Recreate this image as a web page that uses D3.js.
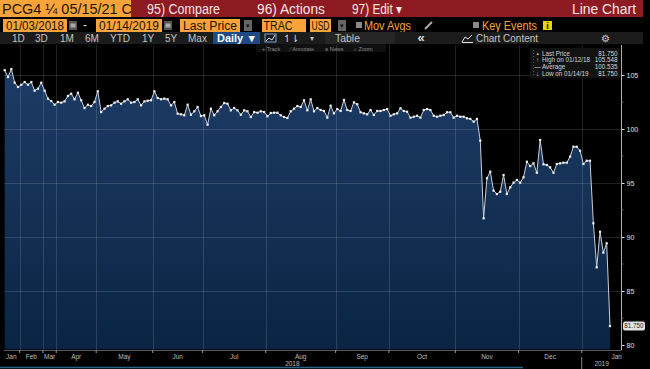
<!DOCTYPE html>
<html>
<head>
<meta charset="utf-8">
<script src="https://cdn.jsdelivr.net/npm/d3@7"></script>
<style>
  body { margin: 0; background: #000; }
  svg { display: block; font-family: "Liberation Sans", Arial, sans-serif; }
</style>
</head>
<body>
<script>
// PCG4 1/4 05/15/21 Corp, one value per observation
var prices = [
  105.45, 104.81, 105.548, 104.29, 103.89, 104.10, 104.35, 104.10, 104.35, 103.55,
  103.73, 104.29, 103.55, 102.81, 102.59, 102.25, 102.50, 102.44, 102.56, 103.06,
  103.27, 102.75, 103.36, 102.66, 101.94, 102.25, 102.13, 102.50, 103.49, 101.57,
  101.88, 102.13, 102.19, 102.44, 102.56, 102.34, 102.56, 102.75, 102.44, 102.50,
  102.75, 102.19, 102.56, 102.62, 102.66, 103.49, 102.87,
  102.75, 102.81, 102.75, 102.19, 102.50, 101.42, 101.36, 101.27, 102.25, 101.32,
  101.64, 102.04, 101.20, 101.27, 100.40, 101.88, 101.27, 101.64, 102.04, 102.41,
  102.34, 101.73, 101.94, 101.73, 101.32, 101.73, 101.64, 101.11, 101.57, 101.51,
  101.64, 101.57, 101.18, 101.48, 101.51, 101.51, 101.27, 101.11, 101.02, 101.64,
  101.88, 102.13, 102.04, 102.66, 101.73, 102.75, 101.64, 101.94,
  101.76, 101.67, 101.05, 102.16, 101.45, 101.85, 101.67, 102.69, 101.76, 101.67,
  102.47, 102.29, 101.55, 101.45, 101.36, 101.76, 101.30, 101.67, 101.67, 101.76,
  101.85, 101.23, 101.36, 101.45, 101.92, 101.67, 101.60, 101.05, 101.14, 101.23,
  101.05, 101.76, 101.85, 101.76, 101.23, 101.14, 101.23, 101.30, 101.55, 101.55,
  101.05, 101.23, 101.14, 101.14, 100.99, 100.93, 100.68, 100.93,
  98.92, 91.73, 95.44, 96.05, 94.29, 93.98, 94.19, 95.74, 93.98, 94.60,
  95.03, 95.28, 95.03, 95.53, 96.97, 96.57, 96.82, 95.95, 98.98, 96.73,
  96.67, 96.45, 95.95, 96.76, 96.82, 96.88, 96.88, 97.44, 98.36, 98.36,
  97.99, 96.76, 97.06, 97.06, 91.27, 87.19, 90.49, 88.55, 89.42, 81.75
]

var monthLabels = ["Jan", "Feb", "Mar", "Apr", "May", "Jun", "Jul", "Aug", "Sep", "Oct", "Nov", "Dec", "Jan"]
var monthStarts = [0, 5, 12, 16, 28, 45, 60, 79, 100, 116, 136, 155, 174]
var yearLabels = ["2018", "2019"]
var yTicks = [80, 85, 90, 95, 100, 105]
var yMinorTicks = [82.5, 87.5, 92.5, 97.5, 102.5]

var legendRows = [
  {sym: "▪", label: "Last Price", value: "81.750"},
  {sym: "↑", label: "High on 01/12/18", value: "105.548"},
  {sym: "—", label: "Average", value: "100.535"},
  {sym: "↓", label: "Low on 01/14/19", value: "81.750"}
]

var periods = ["1D", "3D", "1M", "6M", "YTD", "1Y", "5Y", "Max"]
var periodX = [12, 35, 60, 85, 110, 142, 165, 188]

var orange = "#f8a43a"
var width = 650, height = 369

var svg = d3.select("body").append("svg")
  .attr("width", width)
  .attr("height", height)

svg.append("rect").attr("width", width).attr("height", height).attr("fill", "#000")

// ---- header rows ----
function label(txt, x, y, size, fill, len, anchor) {
  var t = svg.append("text")
    .attr("x", x).attr("y", y)
    .attr("font-size", size)
    .attr("fill", fill)
    .attr("text-anchor", anchor || "start")
    .text(txt)
  if (len) t.attr("textLength", len).attr("lengthAdjust", "spacingAndGlyphs")
  return t
}

svg.append("rect").attr("x", 0).attr("y", 0).attr("width", 131).attr("height", 17).attr("fill", orange)
label("PCG4 ¼ 05/15/21 C", 2, 14, 14, "#1b1208", 130)
svg.append("rect").attr("x", 131).attr("y", 0).attr("width", 512).attr("height", 17).attr("fill", "#8e1a22")
label("95) Compare", 147, 14, 14, "#f2e6e6", 73)
label("96) Actions", 257, 14, 14, "#f2e6e6", 68)
label("97) Edit ▾", 352, 14, 14, "#f2e6e6", 50)
label("Line Chart", 636, 14, 14, "#f2e6e6", 64, "end")

var boxes = [
  {x: 3, w: 64, t: "01/03/2018"},
  {x: 96, w: 66, t: "01/14/2019"},
  {x: 180, w: 60, t: "Last Price"},
  {x: 262, w: 44, t: "TRAC", len: 29},
  {x: 310, w: 21, t: "USD", len: 18}
]
boxes.forEach(function(b) {
  svg.append("rect").attr("x", b.x).attr("y", 19).attr("width", b.w).attr("height", 13).attr("fill", orange)
  label(b.t, b.x + (b.len ? 1.5 : 3), 29.5, 12, "#1b1208", b.len || b.w - 6)
})
;[69, 164].forEach(function(x) {
  svg.append("rect").attr("x", x).attr("y", 21).attr("width", 8).attr("height", 9).attr("fill", "#555")
  svg.append("rect").attr("x", x + 1.5).attr("y", 23.5).attr("width", 5).attr("height", 4).attr("fill", "#aaa")
})
label("-", 83, 29, 12, "#ddd")
;[244, 338].forEach(function(x) {
  svg.append("rect").attr("x", x).attr("y", 20).attr("width", 8).attr("height", 11).attr("fill", "#666")
  label("▾", x + 4, 28, 7, "#111", null, "middle")
})
svg.append("rect").attr("x", 356).attr("y", 22).attr("width", 6).attr("height", 6).attr("fill", "#8a8a8a")
label("Mov Avgs", 364, 29.5, 12, orange, 47)
svg.append("line").attr("x1", 425).attr("y1", 29).attr("x2", 432).attr("y2", 22).attr("stroke", "#aaa").attr("stroke-width", 2)
svg.append("rect").attr("x", 473).attr("y", 22).attr("width", 6).attr("height", 6).attr("fill", "#8a8a8a")
label("Key Events", 482, 29.5, 12, orange, 55)
svg.append("rect").attr("x", 543).attr("y", 21).attr("width", 9).attr("height", 9).attr("fill", "#e6d400")
label("i", 547.5, 29, 9, "#111", null, "middle").attr("font-weight", "bold")

svg.append("rect").attr("x", 0).attr("y", 32).attr("width", 643).attr("height", 12).attr("fill", "#1c1c1c")
periods.forEach(function(p, i) {
  label(p, periodX[i], 41.5, 10, "#c4c4c4")
})
svg.append("rect").attr("x", 213).attr("y", 32).attr("width", 47).attr("height", 12).attr("fill", "#1f4a86")
label("Daily ▼", 217, 41.5, 10.5, "#fff", 40).attr("font-weight", "bold")
svg.append("rect").attr("x", 265).attr("y", 34).attr("width", 11).attr("height", 8).attr("fill", "none").attr("stroke", "#7fa0d0")
svg.append("polyline").attr("points", "266,41 269,38 272,40 275,35").attr("fill", "none").attr("stroke", "#cfe0ff")
label("↿⇂", 283, 41.5, 10, "#ddd")
label("▾", 312, 41, 8, "#bbb", null, "middle")
svg.append("rect").attr("x", 325).attr("y", 32).attr("width", 70).attr("height", 12).attr("fill", "#262626")
label("Table", 335, 41.5, 10, "#c4c4c4", 25)
label("«", 421, 42, 13, "#ddd", null, "middle").attr("font-weight", "bold")
svg.append("polyline").attr("points", "462,42 465,37 468,39 472,35").attr("fill", "none").attr("stroke", "#ddd")
svg.append("line").attr("x1", 462).attr("y1", 42.5).attr("x2", 473).attr("y2", 42.5).attr("stroke", "#ddd")
label("Chart Content", 476, 41.5, 10, "#c4c4c4", 62)
label("⚙", 605, 42, 10, "#ccc", null, "middle")

svg.append("rect").attr("x", 256).attr("y", 44).attr("width", 130).attr("height", 8).attr("fill", "#101010")
label("+ Track", 262, 50.5, 5.5, "#8a8a8a")
label("⁄ Annotate", 290, 50.5, 5.5, "#8a8a8a")
label("≡ News", 325, 50.5, 5.5, "#8a8a8a")
label("⌕ Zoom", 354, 50.5, 5.5, "#8a8a8a")

// ---- chart ----
var x = d3.scaleLinear()
  .domain([0, prices.length - 1])
  .range([4.7, 610])

var y = d3.scaleLinear()
  .domain([80, 105])
  .range([345, 75])

var plotRight = 621.5, plotBottom = 350, plotTop = 45

var grad = svg.append("defs").append("linearGradient")
  .attr("id", "areaFill")
  .attr("gradientUnits", "userSpaceOnUse")
  .attr("x1", 0).attr("y1", 70).attr("x2", 0).attr("y2", 349)
grad.append("stop").attr("offset", 0).attr("stop-color", "#1d3c66")
grad.append("stop").attr("offset", 1).attr("stop-color", "#0a2543")

var area = d3.area()
  .x(function(d, i) { return x(i) })
  .y0(y(79.6))
  .y1(function(d) { return y(d) })

svg.append("path")
  .datum(prices)
  .attr("fill", "url(#areaFill)")
  .attr("d", area)

// grid
svg.append("g")
  .selectAll("line")
  .data(yTicks.filter(function(d) { return d > 80 }))
  .enter()
  .append("line")
  .attr("x1", 4).attr("x2", plotRight)
  .attr("y1", function(d) { return Math.round(y(d)) + 0.5 })
  .attr("y2", function(d) { return Math.round(y(d)) + 0.5 })
  .attr("stroke", "#fff")
  .attr("stroke-opacity", 0.13)

var bounds = monthStarts.slice(1).map(function(s) { return x(s - 0.5) })

svg.append("g")
  .selectAll("line")
  .data(bounds)
  .enter()
  .append("line")
  .attr("x1", function(d) { return Math.round(d) + 0.5 })
  .attr("x2", function(d) { return Math.round(d) + 0.5 })
  .attr("y1", plotTop).attr("y2", plotBottom)
  .attr("stroke", "#fff")
  .attr("stroke-opacity", 0.13)

// price line + markers
var line = d3.line()
  .x(function(d, i) { return x(i) })
  .y(function(d) { return y(d) })

svg.append("path")
  .datum(prices)
  .attr("fill", "none")
  .attr("stroke", "#c9ced8")
  .attr("stroke-width", 1)
  .attr("d", line)

svg.append("g")
  .selectAll("rect")
  .data(prices)
  .enter()
  .append("rect")
  .attr("x", function(d, i) { return x(i) - 1.1 })
  .attr("y", function(d) { return y(d) - 1.1 })
  .attr("width", 2.2).attr("height", 2.2)
  .attr("fill", "#f0f0f0")

// legend
var lg = svg.append("g")
lg.append("rect").attr("x", 530).attr("y", 48).attr("width", 90).attr("height", 30).attr("fill", "#151515").attr("opacity", 0.92)
lg.append("line").attr("x1", 533.5).attr("x2", 533.5).attr("y1", 50).attr("y2", 77)
  .attr("stroke", "#555").attr("stroke-dasharray", "1,2")
var rows = lg.selectAll("g.row")
  .data(legendRows)
  .enter()
  .append("g")
  .attr("class", "row")
  .attr("transform", function(d, i) { return "translate(0," + (55.5 + i * 6.9) + ")" })
rows.append("text").attr("x", 537.5).attr("font-size", 6.3).attr("fill", "#ccc").attr("text-anchor", "middle").text(function(d) { return d.sym })
rows.append("text").attr("x", 542).attr("font-size", 6.3).attr("fill", "#d4d4d4").text(function(d) { return d.label })
rows.append("text").attr("x", 617.5).attr("font-size", 6.3).attr("fill", "#d4d4d4").attr("text-anchor", "end").text(function(d) { return d.value })

// right axis
var yAxis = svg.append("g")
  .attr("transform", "translate(" + plotRight + ",0)")
  .call(d3.axisRight(y).tickValues(yTicks).tickSize(3).tickPadding(2).tickFormat(d3.format("d")))
yAxis.select(".domain").remove()
yAxis.selectAll("line").attr("stroke", "#ddd")
yAxis.selectAll("text").attr("fill", "#e0e0e0").attr("font-size", 7).attr("font-family", "Liberation Sans, Arial, sans-serif")
svg.append("line").attr("x1", plotRight).attr("x2", plotRight).attr("y1", plotTop).attr("y2", plotBottom).attr("stroke", "#b0b0b0")
svg.append("g")
  .selectAll("line")
  .data(yMinorTicks)
  .enter()
  .append("line")
  .attr("x1", plotRight).attr("x2", plotRight + 2)
  .attr("y1", function(d) { return y(d) }).attr("y2", function(d) { return y(d) })
  .attr("stroke", "#666")

// last price tag
var last = prices[prices.length - 1]
svg.append("rect").attr("x", 623).attr("y", y(last) - 4.5).attr("width", 22).attr("height", 9).attr("rx", 2).attr("fill", "#e2e2e2")
svg.append("text").attr("x", 634).attr("y", y(last) + 2.3).attr("font-size", 6.3).attr("fill", "#222").attr("text-anchor", "middle").text(d3.format(".3f")(last))

// bottom axis
svg.append("line").attr("x1", 4).attr("x2", plotRight).attr("y1", plotBottom + 0.5).attr("y2", plotBottom + 0.5).attr("stroke", "#5a5a5a")
svg.append("g")
  .selectAll("line")
  .data(bounds)
  .enter()
  .append("line")
  .attr("x1", function(d) { return d }).attr("x2", function(d) { return d })
  .attr("y1", plotBottom).attr("y2", plotBottom + 3)
  .attr("stroke", "#999")

svg.append("g")
  .selectAll("text")
  .data(monthLabels)
  .enter()
  .append("text")
  .attr("x", function(d, i) {
    var a = monthStarts[i] - 0.5
    var b = i + 1 < monthStarts.length ? monthStarts[i + 1] - 0.5 : a + 21
    return x((a + b) / 2)
  })
  .attr("y", 358.5)
  .attr("font-size", 6.5)
  .attr("fill", "#bdbdbd")
  .attr("text-anchor", "middle")
  .text(function(d) { return d })

var yearSplit = x(monthStarts[monthStarts.length - 1] - 0.5)
svg.append("line").attr("x1", yearSplit).attr("x2", yearSplit).attr("y1", 357).attr("y2", 369).attr("stroke", "#888")
svg.append("text").attr("x", (x(-0.5) + yearSplit) / 2).attr("y", 366).attr("font-size", 6.5).attr("fill", "#bdbdbd").attr("text-anchor", "middle").text(yearLabels[0])
svg.append("text").attr("x", (yearSplit + plotRight) / 2).attr("y", 366).attr("font-size", 6.5).attr("fill", "#bdbdbd").attr("text-anchor", "middle").text(yearLabels[1])

// scroller strip at the very bottom
svg.append("line").attr("x1", 0).attr("x2", 523).attr("y1", 367.5).attr("y2", 367.5).attr("stroke", "#2b6584").attr("stroke-width", 1.5)
</script>
</body>
</html>
